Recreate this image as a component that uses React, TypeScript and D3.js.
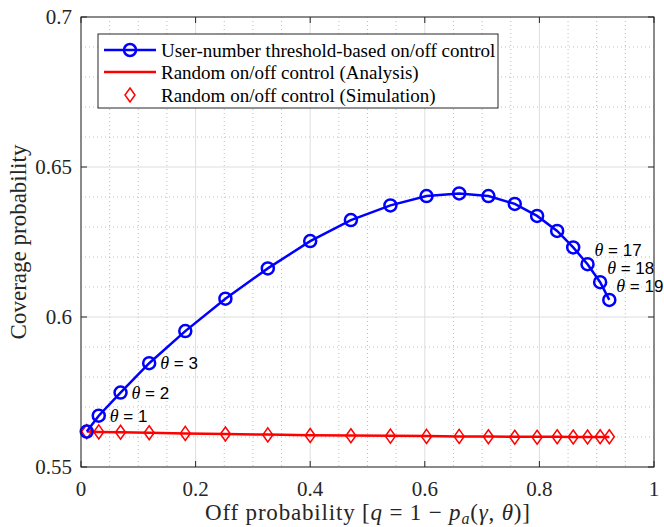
import React from "react";
import * as d3 from "d3";

// ---- data ----
const offProb = [0.010, 0.031, 0.069, 0.119, 0.182, 0.252, 0.326, 0.400, 0.471, 0.540,
  0.603, 0.660, 0.711, 0.757, 0.796, 0.831, 0.859, 0.884, 0.906, 0.922];
const thresholdCov = [0.5618, 0.5671, 0.5748, 0.5846, 0.5953, 0.6061, 0.6162, 0.6253, 0.6323, 0.6372,
  0.6403, 0.6412, 0.6403, 0.6377, 0.6337, 0.6287, 0.6232, 0.6176, 0.6116, 0.6057];
const randomAnalysis = [0.5618, 0.5617, 0.5616, 0.5614, 0.5612, 0.5610, 0.5608, 0.5606, 0.5605, 0.5604,
  0.5603, 0.5602, 0.5602, 0.5601, 0.5601, 0.5601, 0.5600, 0.5600, 0.5600, 0.5600];
const randomSimulation = [0.5618, 0.5617, 0.5616, 0.5614, 0.5612, 0.5610, 0.5607, 0.5605, 0.5604, 0.5603,
  0.5602, 0.5602, 0.5601, 0.5599, 0.5599, 0.5601, 0.5600, 0.5600, 0.5601, 0.5601];
const xTicks = [0, 0.2, 0.4, 0.6, 0.8, 1];
const xTickLabels = ["0", "0.2", "0.4", "0.6", "0.8", "1"];
const yTicks = [0.55, 0.6, 0.65, 0.7];
const yTickLabels = ["0.55", "0.6", "0.65", "0.7"];
const legendLabels = [
  "User-number threshold-based on/off control",
  "Random on/off control (Analysis)",
  "Random on/off control (Simulation)",
];
const thetaLabelIdx = [1, 2, 3, 17, 18, 19];

export default function App() {
  const W = 664, H = 527;
  const L = 81, R = 654, T = 17, B = 467;
  const x = d3.scaleLinear().domain([0, 1]).range([L, R]);
  const y = d3.scaleLinear().domain([0.55, 0.7]).range([B, T]);

  const minorX = d3.range(0, 1.0001, 0.05).filter((v) => Math.abs(v * 5 - Math.round(v * 5)) > 1e-6);
  const minorY = d3.range(0.55, 0.7001, 0.01).filter((v) => Math.abs(v * 20 - Math.round(v * 20)) > 1e-6);

  const line = d3.line<number>().x((_, i) => x(offProb[i])).y((d) => y(d));
  const axisColor = "#262626";
  const serif = "'Liberation Serif', 'Times New Roman', serif";
  const sans = "'Liberation Sans', Arial, sans-serif";
  const tickLen = 6;

  const diamond = (cx: number, cy: number, w = 5, h = 7) =>
    `M${cx},${cy - h}L${cx + w},${cy}L${cx},${cy + h}L${cx - w},${cy}Z`;

  const lgX = 98, lgY = 34, lgW = 400, lgH = 74;
  const rowY = [50, 72, 95];

  return (
    <svg width={W} height={H} style={{ position: "absolute", left: 0, top: 0, background: "#fff" }}>
      <rect x={0} y={0} width={W} height={H} fill="#fff" />
      {/* minor grid */}
      {minorX.map((v, i) => (
        <line key={"mx" + i} x1={x(v)} x2={x(v)} y1={T} y2={B} stroke="#bdbdbd" strokeWidth={1} strokeDasharray="1,3" />
      ))}
      {minorY.map((v, i) => (
        <line key={"my" + i} x1={L} x2={R} y1={y(v)} y2={y(v)} stroke="#bdbdbd" strokeWidth={1} strokeDasharray="1,3" />
      ))}
      {/* major grid */}
      {xTicks.map((v, i) => (
        <line key={"gx" + i} x1={x(v)} x2={x(v)} y1={T} y2={B} stroke="#dedede" strokeWidth={1} />
      ))}
      {yTicks.map((v, i) => (
        <line key={"gy" + i} x1={L} x2={R} y1={y(v)} y2={y(v)} stroke="#dedede" strokeWidth={1} />
      ))}

      {/* random analysis line */}
      <path d={line(randomAnalysis) || ""} fill="none" stroke="#ff0000" strokeWidth={2.5} />
      {/* random simulation diamonds */}
      {randomSimulation.map((v, i) => (
        <path key={"d" + i} d={diamond(x(offProb[i]), y(v))} fill="none" stroke="#ff0000" strokeWidth={1.5} />
      ))}
      {/* threshold line */}
      <path d={line(thresholdCov) || ""} fill="none" stroke="#0000ff" strokeWidth={2.5} />
      {thresholdCov.map((v, i) => (
        <circle key={"c" + i} cx={x(offProb[i])} cy={y(v)} r={6} fill="none" stroke="#0000ff" strokeWidth={2.5} />
      ))}

      {/* theta annotations */}
      {thetaLabelIdx.map((idx) => {
        const px = x(offProb[idx]);
        const py = y(thresholdCov[idx]);
        const hi = idx > 10;
        const tx = hi ? px + 7 : px + 11;
        const ty = hi ? py - 12 : py + 2;
        return (
          <text key={"t" + idx} x={tx} y={ty} dominantBaseline="middle" fontFamily={sans} fontSize={17} fill="#000">
            <tspan fontFamily={serif} fontStyle="italic" fontSize={18}>θ</tspan>
            <tspan>{" = " + idx}</tspan>
          </text>
        );
      })}

      {/* axes box */}
      <rect x={L} y={T} width={R - L} height={B - T} fill="none" stroke={axisColor} strokeWidth={1} />
      {xTicks.map((v, i) => (
        <g key={"xt" + i}>
          <line x1={x(v)} x2={x(v)} y1={B} y2={B - tickLen} stroke={axisColor} />
          <line x1={x(v)} x2={x(v)} y1={T} y2={T + tickLen} stroke={axisColor} />
          <text x={x(v)} y={496} textAnchor="middle" fontFamily={serif} fontSize={21} fill={axisColor}>
            {xTickLabels[i]}
          </text>
        </g>
      ))}
      {yTicks.map((v, i) => (
        <g key={"yt" + i}>
          <line x1={L} x2={L + tickLen} y1={y(v)} y2={y(v)} stroke={axisColor} />
          <line x1={R} x2={R - tickLen} y1={y(v)} y2={y(v)} stroke={axisColor} />
          <text x={72} y={y(v)} dy="0.35em" textAnchor="end" fontFamily={serif} fontSize={21} fill={axisColor}>
            {yTickLabels[i]}
          </text>
        </g>
      ))}

      {/* axis labels */}
      <text transform={`translate(26,${(T + B) / 2}) rotate(-90)`} textAnchor="middle" fontFamily={serif} fontSize={23} fill={axisColor}>
        Coverage probability
      </text>
      <text x={205} y={520} textLength={325} lengthAdjust="spacing" fontFamily={serif} fontSize={23} fill={axisColor}>
        <tspan>Off probability [</tspan>
        <tspan fontStyle="italic">q</tspan>
        <tspan>{" = 1 − "}</tspan>
        <tspan fontStyle="italic">p</tspan>
        <tspan fontStyle="italic" fontSize={16} dy={4}>a</tspan>
        <tspan dy={-4}>(</tspan>
        <tspan fontStyle="italic">γ</tspan>
        <tspan>, </tspan>
        <tspan fontStyle="italic">θ</tspan>
        <tspan>)]</tspan>
      </text>

      {/* legend */}
      <rect x={lgX} y={lgY} width={lgW} height={lgH} fill="#fff" stroke={axisColor} strokeWidth={1} />
      <line x1={104} x2={156} y1={rowY[0]} y2={rowY[0]} stroke="#0000ff" strokeWidth={2.5} />
      <circle cx={130} cy={rowY[0]} r={6} fill="none" stroke="#0000ff" strokeWidth={2.5} />
      <line x1={104} x2={156} y1={rowY[1]} y2={rowY[1]} stroke="#ff0000" strokeWidth={2.5} />
      <path d={diamond(130, rowY[2])} fill="none" stroke="#ff0000" strokeWidth={1.5} />
      {legendLabels.map((s, i) => (
        <text key={"lg" + i} x={161} y={rowY[i]} dy="0.35em" fontFamily={serif} fontSize={19} fill="#000">
          {s}
        </text>
      ))}
    </svg>
  );
}
